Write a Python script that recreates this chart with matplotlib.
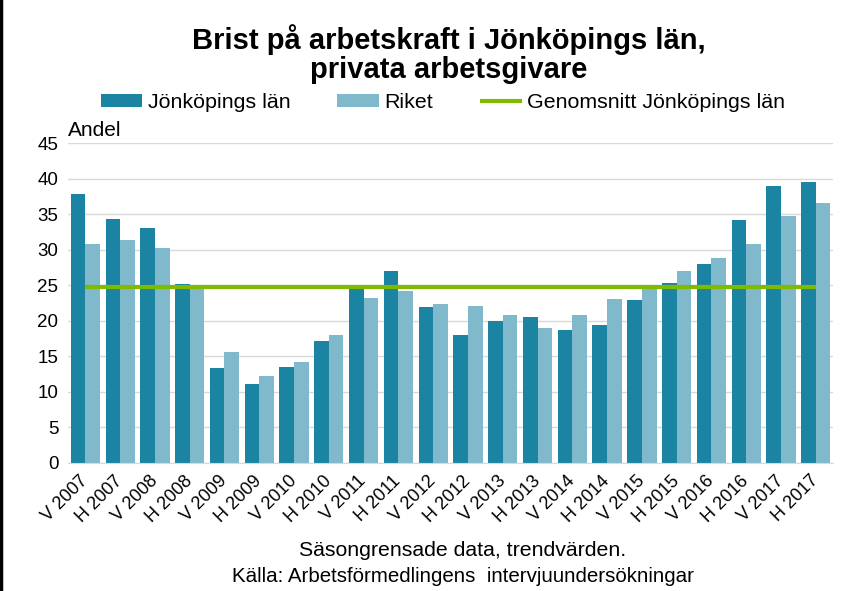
import numpy as np
import matplotlib.pyplot as plt
from matplotlib.lines import Line2D

plt.rcParams['font.family'] = ['Liberation Sans', 'DejaVu Sans']

# periods (V = vår, H = höst)
periods = ['V 2007', 'H 2007', 'V 2008', 'H 2008', 'V 2009', 'H 2009',
           'V 2010', 'H 2010', 'V 2011', 'H 2011', 'V 2012', 'H 2012',
           'V 2013', 'H 2013', 'V 2014', 'H 2014', 'V 2015', 'H 2015',
           'V 2016', 'H 2016', 'V 2017', 'H 2017']

jonkoping = [37.9, 34.3, 33.1, 25.2, 13.3, 11.1, 13.5, 17.1, 24.5, 27.0, 21.9,
             18.0, 20.0, 20.5, 18.7, 19.4, 22.9, 25.3, 28.0, 34.2, 39.0, 39.5]
riket = [30.8, 31.4, 30.2, 24.6, 15.6, 12.2, 14.2, 18.0, 23.2, 24.2, 22.4,
         22.1, 20.8, 19.0, 20.8, 23.1, 24.5, 27.0, 28.8, 30.8, 34.8, 36.6]
snitt_jonkoping = 24.7

yticks = [0, 5, 10, 15, 20, 25, 30, 35, 40, 45]

c_jkp = '#1B84A2'
c_riket = '#80B9CB'
c_snitt = '#7FBA00'

fig = plt.figure(figsize=(8.55, 5.91), dpi=100)
ax = fig.add_axes([0.0795, 0.2166, 0.895, 0.5414])

x = np.arange(len(periods))
w = 0.42
b1 = ax.bar(x - w / 2, jonkoping, w, color=c_jkp, label='Jönköpings län', zorder=2)
b2 = ax.bar(x + w / 2, riket, w, color=c_riket, label='Riket', zorder=2)
l1, = ax.plot(x, [snitt_jonkoping] * len(x), color=c_snitt, lw=3,
              label='Genomsnitt Jönköpings län', zorder=3, solid_capstyle='butt')

ax.set_xlim(-0.5, len(periods) - 0.5)
ax.set_ylim(0, 45)
ax.set_yticks(yticks)
ax.set_yticklabels([str(t) for t in yticks], fontsize=13.5)
ax.set_xticks(x)
ax.set_xticklabels(periods, rotation=45, ha='right', va='center',
                   rotation_mode='anchor', fontsize=13)
ax.tick_params(axis='y', length=0, pad=7)
ax.tick_params(axis='x', length=0, pad=11)
ax.yaxis.grid(True, color='#D9D9D9', lw=1, zorder=0)
for s in ['top', 'right', 'left']:
    ax.spines[s].set_visible(False)
ax.spines['bottom'].set_color('#D9D9D9')

fig.text(68 / 855, 1 - 130 / 591, 'Andel', fontsize=15, ha='left', va='center')

fig.text(0.525, 1 - 40 / 591, 'Brist på arbetskraft i Jönköpings län,',
         fontsize=21, fontweight='bold', ha='center', va='center')
fig.text(0.525, 1 - 70 / 591, 'privata arbetsgivare', fontsize=21,
         fontweight='bold', ha='center', va='center')

fig.legend([b1, b2, l1], ['Jönköpings län', 'Riket', 'Genomsnitt Jönköpings län'],
           loc='center', bbox_to_anchor=(443 / 855, 1 - 103 / 591), ncol=3,
           frameon=False, fontsize=15.4, handlelength=1.95, handleheight=0.55,
           handletextpad=0.25, columnspacing=2.2, borderpad=0, borderaxespad=0)

fig.text(463 / 855, 1 - 551 / 591, 'Säsongrensade data, trendvärden.',
         fontsize=15.3, ha='center', va='center')
fig.text(463 / 855, 1 - 577 / 591,
         'Källa: Arbetsförmedlingens  intervjuundersökningar',
         fontsize=14.8, ha='center', va='center')

# black edge on the left side of the picture
fig.add_artist(Line2D([0.001, 0.001], [0, 1], color='black', lw=2.5,
                      transform=fig.transFigure))

fig.savefig('out.png', dpi=100)
